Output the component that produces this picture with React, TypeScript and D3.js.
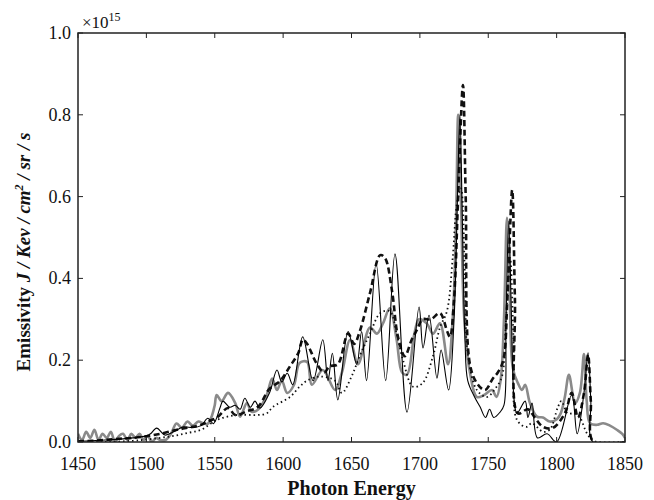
import React from "react";
import * as d3 from "d3";

type P = [number, number];

const xTicks = [1450, 1500, 1550, 1600, 1650, 1700, 1750, 1800, 1850];
const yTicks = [0, 0.2, 0.4, 0.6, 0.8, 1.0];

const solidThin: P[] = [
  [1450, 0.002], [1460, 0.003], [1470, 0.005], [1480, 0.007], [1490, 0.01], [1500, 0.015],
  [1503, 0.02], [1507.5, 0.034], [1513.6, 0.017], [1520, 0.025], [1527, 0.037], [1534, 0.035],
  [1540, 0.04], [1545, 0.058], [1549, 0.045], [1554, 0.085], [1556, 0.1], [1561, 0.085],
  [1565, 0.09], [1568.5, 0.08], [1572, 0.107], [1576, 0.085], [1579.4, 0.1], [1583, 0.083],
  [1590, 0.12], [1595.5, 0.176], [1599, 0.147], [1603, 0.168], [1607, 0.14], [1614.3, 0.257],
  [1621.9, 0.15], [1629, 0.25], [1632.8, 0.15], [1636, 0.217], [1640, 0.103], [1647.5, 0.27],
  [1653.8, 0.19], [1657.4, 0.27], [1661, 0.15], [1668, 0.437], [1675, 0.15], [1681.8, 0.46],
  [1690.6, 0.073], [1699.4, 0.33], [1702.3, 0.23], [1706.7, 0.31], [1712.5, 0.156],
  [1715.5, 0.225], [1721, 0.127], [1725, 0.3], [1727.5, 0.6], [1729.3, 0.8], [1731, 0.55],
  [1733, 0.25], [1735, 0.15], [1740, 0.11], [1744, 0.086], [1748, 0.06], [1751, 0.08],
  [1754, 0.06], [1758.6, 0.073], [1761.5, 0.09], [1763, 0.3], [1765, 0.54], [1767, 0.3],
  [1769, 0.1], [1771, 0.07], [1777, 0.1], [1779, 0.06], [1782, 0.095], [1786, 0.01],
  [1793, 0.02], [1800, 0.0], [1811, 0.115], [1815, 0.02], [1820, 0.12], [1823, 0.218],
  [1825, 0.1], [1826.6, 0.0], [1850, 0.0],
];

const grayThick: P[] = [
  [1450, 0.02], [1453, 0.005], [1456, 0.025], [1459, 0.01], [1462, 0.03], [1465, 0.005],
  [1468, 0.02], [1471, 0.01], [1474, 0.025], [1477, 0.0], [1480, 0.015], [1483, 0.02],
  [1486, 0.005], [1489, 0.02], [1492, 0.01], [1495, 0.02], [1498, 0.005], [1501, 0.015],
  [1504, 0.0], [1507, 0.01], [1510, 0.005], [1514, 0.005], [1518, 0.02], [1522, 0.045],
  [1526, 0.035], [1530, 0.05], [1534, 0.04], [1538, 0.05], [1542, 0.045], [1545, 0.045],
  [1548, 0.065], [1550, 0.09], [1551.4, 0.115], [1555, 0.1], [1559.7, 0.12], [1565, 0.095],
  [1568.5, 0.062], [1573.5, 0.095], [1577, 0.074], [1582, 0.08], [1588, 0.115], [1592, 0.155],
  [1595.5, 0.127], [1599, 0.15], [1603, 0.12], [1608, 0.14], [1612, 0.193], [1617.5, 0.196],
  [1621, 0.14], [1629, 0.176], [1638, 0.127], [1643, 0.17], [1649, 0.25], [1654.7, 0.19],
  [1663.5, 0.28], [1668.6, 0.265], [1673, 0.29], [1678, 0.327], [1683, 0.25], [1687, 0.17],
  [1690.6, 0.165], [1696, 0.265], [1699.4, 0.3], [1705, 0.29], [1709.6, 0.265], [1714.7, 0.29],
  [1720.6, 0.19], [1724, 0.3], [1726.5, 0.55], [1728, 0.8], [1730, 0.6], [1732.5, 0.3],
  [1736.6, 0.17], [1741.7, 0.11], [1747, 0.115], [1752.7, 0.127], [1756, 0.11], [1759, 0.15],
  [1761.5, 0.3], [1763.7, 0.548], [1765.5, 0.4], [1768, 0.18], [1771.7, 0.144], [1774.7, 0.127],
  [1777, 0.14], [1780.5, 0.095], [1785.6, 0.062], [1790, 0.06], [1795, 0.05], [1800, 0.055],
  [1803, 0.07], [1806, 0.11], [1809, 0.164], [1813.5, 0.095], [1817, 0.12], [1820, 0.215],
  [1822, 0.1], [1824.4, 0.046], [1829.5, 0.042], [1834, 0.046], [1839, 0.04], [1844, 0.03],
  [1848, 0.02], [1850, 0.01],
];

const dashedThick: P[] = [
  [1450, 0.002], [1460, 0.003], [1470, 0.005], [1480, 0.008], [1490, 0.01], [1500, 0.014],
  [1510, 0.02], [1520, 0.028], [1530, 0.035], [1540, 0.042], [1545, 0.05], [1551.6, 0.06],
  [1559.7, 0.083], [1565, 0.066], [1573.5, 0.075], [1581.6, 0.086], [1590, 0.13], [1598, 0.15],
  [1605, 0.185], [1611, 0.217], [1614.5, 0.25], [1617.5, 0.24], [1624.8, 0.19], [1630, 0.17],
  [1634, 0.185], [1640, 0.19], [1647.5, 0.265], [1652, 0.24], [1656, 0.27], [1663.5, 0.364],
  [1671, 0.457], [1674.5, 0.45], [1679.6, 0.37], [1684, 0.257], [1689, 0.21], [1694, 0.25],
  [1698, 0.275], [1702, 0.3], [1708, 0.3], [1714.7, 0.315], [1720, 0.27], [1722, 0.257],
  [1725, 0.35], [1728, 0.6], [1731.5, 0.873], [1733.5, 0.6], [1736.6, 0.19], [1741.7, 0.144],
  [1747.6, 0.127], [1753.5, 0.156], [1757, 0.17], [1761, 0.2], [1764, 0.35], [1767.5, 0.616],
  [1769.5, 0.35], [1771.7, 0.07], [1779, 0.08], [1784, 0.06], [1790, 0.037], [1797, 0.034],
  [1806, 0.07], [1811, 0.12], [1815.6, 0.06], [1820, 0.12], [1823, 0.213], [1825, 0.1],
  [1827, 0.0], [1850, 0.0],
];

const dotted: P[] = [
  [1450, 0.0], [1470, 0.0], [1490, 0.003], [1500, 0.006], [1510, 0.01], [1520, 0.015],
  [1530, 0.022], [1540, 0.03], [1551.6, 0.054], [1566, 0.066], [1581, 0.066], [1588, 0.07],
  [1592.6, 0.086], [1605, 0.11], [1612, 0.135], [1617.5, 0.15], [1627, 0.16], [1638, 0.15],
  [1643, 0.12], [1650, 0.16], [1656, 0.21], [1663.5, 0.265], [1671, 0.315], [1678, 0.32],
  [1683, 0.265], [1687.7, 0.2], [1695, 0.135], [1702, 0.144], [1709.6, 0.21], [1714.7, 0.28],
  [1719.8, 0.32], [1724, 0.45], [1727, 0.58], [1730, 0.62], [1733, 0.4], [1735, 0.217],
  [1741.7, 0.127], [1749, 0.11], [1755, 0.13], [1760, 0.16], [1763, 0.3], [1766, 0.45],
  [1768.5, 0.25], [1771, 0.054], [1778, 0.037], [1782, 0.046], [1790, 0.025], [1795, 0.03],
  [1801, 0.086], [1803.5, 0.1], [1808, 0.07], [1813, 0.07], [1817, 0.06], [1822, 0.022],
  [1826, 0.005], [1830, 0.0], [1850, 0.0],
];

const W = 654;
const H = 500;
const M = { left: 78, right: 625, top: 33, bottom: 442 };
const FONT = "Liberation Serif, DejaVu Serif, Times New Roman, serif";

export default function App() {
  const x = d3.scaleLinear().domain([1450, 1850]).range([M.left, M.right]);
  const y = d3.scaleLinear().domain([0, 1.0]).range([M.bottom, M.top]);
  const line = d3
    .line<P>()
    .x((d) => x(d[0]))
    .y((d) => Math.min(M.bottom, y(d[1])))
    .curve(d3.curveCatmullRom.alpha(0.5));

  const tickLen = 5;
  const txt = { fontFamily: FONT, fill: "#111" } as React.CSSProperties;
  return (
    <svg width={W} height={H} style={{ position: "absolute", left: 0, top: 0, background: "#fff" }}>
      <defs>
        <clipPath id="plot">
          <rect x={M.left} y={M.top} width={M.right - M.left} height={M.bottom - M.top} />
        </clipPath>
      </defs>
      <rect x={0} y={0} width={W} height={H} fill="#fff" />
      <g clipPath="url(#plot)" fill="none">
        <path d={line(grayThick) || ""} stroke="#8a8a8a" strokeWidth={2.6} strokeLinejoin="round" />
        <path d={line(dotted) || ""} stroke="#111" strokeWidth={1.8} strokeDasharray="1.5 3" />
        <path d={line(dashedThick) || ""} stroke="#111" strokeWidth={2.6} strokeDasharray="6 3.5" />
        <path d={line(solidThin) || ""} stroke="#000" strokeWidth={1.1} strokeLinejoin="round" />
      </g>
      <rect
        x={M.left}
        y={M.top}
        width={M.right - M.left}
        height={M.bottom - M.top}
        fill="none"
        stroke="#222"
        strokeWidth={1.5}
      />
      {xTicks.map((t) => (
        <g key={"x" + t}>
          <line x1={x(t)} x2={x(t)} y1={M.bottom} y2={M.bottom - tickLen} stroke="#222" />
          <line x1={x(t)} x2={x(t)} y1={M.top} y2={M.top + tickLen} stroke="#222" />
          <text x={x(t)} y={M.bottom + 28} textAnchor="middle" fontSize={18} style={txt}>
            {t}
          </text>
        </g>
      ))}
      {yTicks.map((t) => (
        <g key={"y" + t}>
          <line x1={M.left} x2={M.left + tickLen} y1={y(t)} y2={y(t)} stroke="#222" />
          <line x1={M.right} x2={M.right - tickLen} y1={y(t)} y2={y(t)} stroke="#222" />
          <text x={M.left - 7} y={y(t) + 6} textAnchor="end" fontSize={18} style={txt}>
            {t.toFixed(1)}
          </text>
        </g>
      ))}
      <text x={M.left + 4} y={28} fontSize={17} style={txt}>
        ×10
        <tspan dy={-7} fontSize={12}>15</tspan>
      </text>
      <text
        x={(M.left + M.right) / 2}
        y={495}
        textAnchor="middle"
        fontSize={20}
        fontWeight="bold"
        style={txt}
      >
        Photon Energy
      </text>
      <text
        transform={`translate(30, 252) rotate(-90)`}
        textAnchor="middle"
        fontSize={19}
        fontWeight="bold"
        style={txt}
      >
        <tspan>Emissivity </tspan>
        <tspan fontStyle="italic">J / Kev / cm</tspan>
        <tspan fontStyle="italic" fontSize={12} dy={-7}>2</tspan>
        <tspan fontStyle="italic" dy={7}> / sr / s</tspan>
      </text>
    </svg>
  );
}
